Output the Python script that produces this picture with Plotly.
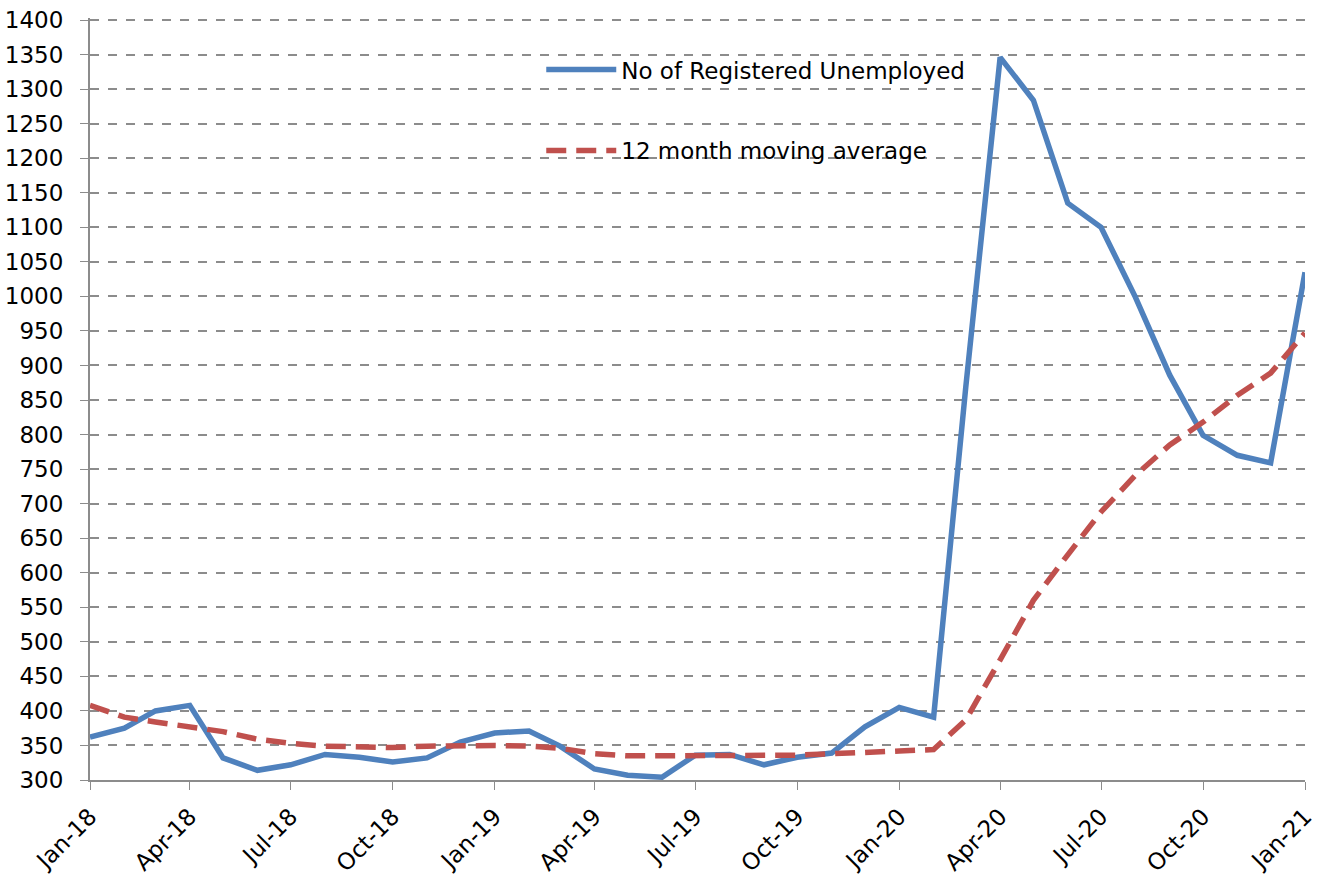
import plotly.graph_objects as go
import pandas as pd

months = pd.date_range("2018-01-01", "2021-01-01", freq="MS")

unemployed = [362, 375, 400, 408, 332, 314, 322, 337, 333, 326, 332, 355,
              368, 371, 349, 316, 307, 304, 336, 337, 322, 333, 339, 377,
              405, 391, 869, 1346, 1284, 1135, 1100, 999, 886, 799, 770, 759,
              1035]

moving_avg = [408, 391, 384, 377, 370, 359, 353, 349, 348, 347, 349, 350,
              350, 349, 346, 338, 335, 335, 335, 335, 335, 336, 338, 339,
              342, 344, 387, 474, 560, 626, 688, 741, 785, 818, 857, 889,
              947]

tick_months = pd.date_range("2018-01-01", "2021-01-01", freq="3MS")
tick_labels = [d.strftime("%b-%y") for d in tick_months]

FONT = "DejaVu Sans"
FS = 23

fig = go.Figure()
fig.add_trace(go.Scatter(
    x=months, y=unemployed, mode="lines",
    name="No of Registered Unemployed",
    line=dict(color="#4F81BD", width=5.5),
    legendgroup="a",
))
fig.add_trace(go.Scatter(
    x=months, y=moving_avg, mode="lines",
    name="12 month moving average",
    line=dict(color="#C0504D", width=5.5, dash="20px,10px"),
    legendgroup="b",
))

fig.update_layout(
    width=1320, height=877,
    margin=dict(l=90, r=15, t=18, b=97, autoexpand=False),
    paper_bgcolor="white", plot_bgcolor="white",
    font=dict(family=FONT, size=FS, color="black"),
    showlegend=True,
    legend=dict(
        x=0.3714, y=0.9605,
        xanchor="left", yanchor="top",
        bgcolor="rgba(0,0,0,0)",
        traceorder="grouped", tracegroupgap=48,
        itemwidth=70,
        font=dict(family=FONT, size=FS, color="black"),
    ),
)

fig.update_xaxes(
    range=[months[0], months[-1]],
    tickvals=list(tick_months), ticktext=tick_labels,
    tickangle=-45, ticks="outside", ticklen=8, tickcolor="#8c8c8c",
    showline=True, linecolor="#8c8c8c", linewidth=2,
    showgrid=False, zeroline=False, automargin=False,
    ticklabelstandoff=4, ticklabeloverflow="allow",
    tickfont=dict(family=FONT, size=FS),
)
fig.update_yaxes(
    range=[300, 1403], dtick=50, tick0=300,
    ticks="outside", ticklen=8, tickcolor="#8c8c8c",
    showline=True, linecolor="#8c8c8c", linewidth=2,
    showgrid=True, gridcolor="#8c8c8c", gridwidth=1.5, griddash="dash",
    zeroline=False, automargin=False,
    ticklabelstandoff=12, ticklabeloverflow="allow",
    tickfont=dict(family=FONT, size=FS),
)

# remove the browser's default 8px body margin so the figure sits at the page origin
fig.write_html("out.html", config={"displayModeBar": False},
               post_script="document.body.style.margin='0';")
